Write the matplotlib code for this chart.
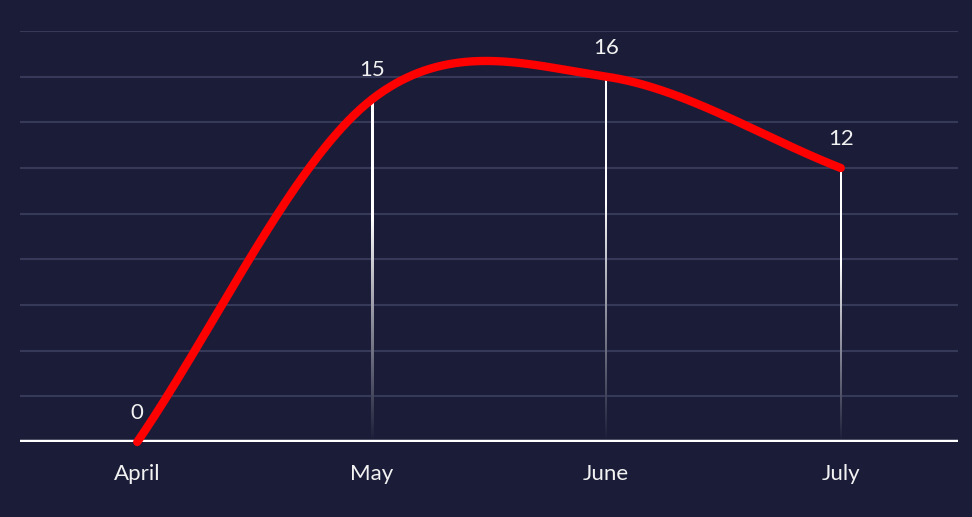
import numpy as np
import matplotlib
matplotlib.use("Agg")
import matplotlib.pyplot as plt
from matplotlib.colors import to_rgb

months = ["April", "May", "June", "July"]
values = [0, 15, 16, 12]
y_grid = [2, 4, 6, 8, 10, 12, 14, 16, 18]

BG = "#1b1d38"
GRID = "#363a58"
RED = "#ff0000"
TXT = "#f2f2f2"

plt.rcParams['font.family'] = ['Lato', 'DejaVu Sans']

fig = plt.figure(figsize=(9.72, 5.17), dpi=100, facecolor=BG)
ax = fig.add_axes([20/972, (517-442)/517, (958-20)/972, (442-31)/517])
ax.set_facecolor(BG)
ax.set_xlim(-0.5, len(months) - 0.5)
ax.set_ylim(0, 18)

x = np.arange(len(months), dtype=float)
y = np.array(values, dtype=float)

# gridlines
for g in y_grid:
    ax.axhline(g, color=GRID, lw=1.5, zorder=1)

# Catmull-Rom style smooth curve (Hermite with central-difference tangents)
n = len(x)
m = np.zeros(n)
m[0] = (y[1] - y[0]) / (x[1] - x[0])
m[-1] = (y[-1] - y[-2]) / (x[-1] - x[-2])
for i in range(1, n - 1):
    m[i] = (y[i+1] - y[i-1]) / (x[i+1] - x[i-1])
xs, ys = [], []
for i in range(n - 1):
    hh = x[i+1] - x[i]
    t = np.linspace(0, 1, 120)
    h00 = 2*t**3 - 3*t**2 + 1
    h10 = t**3 - 2*t**2 + t
    h01 = -2*t**3 + 3*t**2
    h11 = t**3 - t**2
    xs.append(x[i] + t*hh)
    ys.append(h00*y[i] + h10*hh*m[i] + h01*y[i+1] + h11*hh*m[i+1])
xs = np.concatenate(xs); ys = np.concatenate(ys)

# gradient vertical lines (drawn as thin gradient images)
bg_rgb = np.array(to_rgb(BG))
white = np.array([1.0, 1.0, 1.0])
px_per_unit_x = (958 - 20) / (len(months))
half_w = 1.0 / px_per_unit_x
for xi, yi in zip(x, y):
    if yi <= 0:
        continue
    N = 256
    tt = np.linspace(0, 1, N)  # 0 = top, 1 = bottom
    f = np.clip((tt - 0.35) / 0.65, 0, 1) ** 0.9
    cols = white[None, :]*(1 - f[:, None]) + bg_rgb[None, :]*f[:, None]
    img = np.repeat(cols[:, None, :], 2, axis=1)
    ax.imshow(img, extent=[xi - half_w, xi + half_w, 0, yi], aspect='auto',
              interpolation='bilinear', origin='upper', zorder=2)

ax.set_xlim(-0.5, len(months) - 0.5)
ax.set_ylim(0, 18)

ax.plot(xs, ys, color=RED, lw=6, solid_capstyle='round', zorder=4, clip_on=False)

# baseline
ax.axhline(0, color="white", lw=3.2, zorder=3)

# value labels
for xi, yi, v in zip(x, y, values):
    ax.annotate(str(v), (xi, yi), xytext=(0, 29), textcoords='offset pixels',
                ha='center', va='center', color=TXT, fontsize=16, zorder=5)

ax.set_xticks(x)
ax.set_xticklabels(months, color=TXT, fontsize=16)
ax.tick_params(axis='x', length=0, pad=16)
ax.set_yticks([])
for s in ax.spines.values():
    s.set_visible(False)

fig.savefig("out.png", dpi=100, facecolor=BG)
